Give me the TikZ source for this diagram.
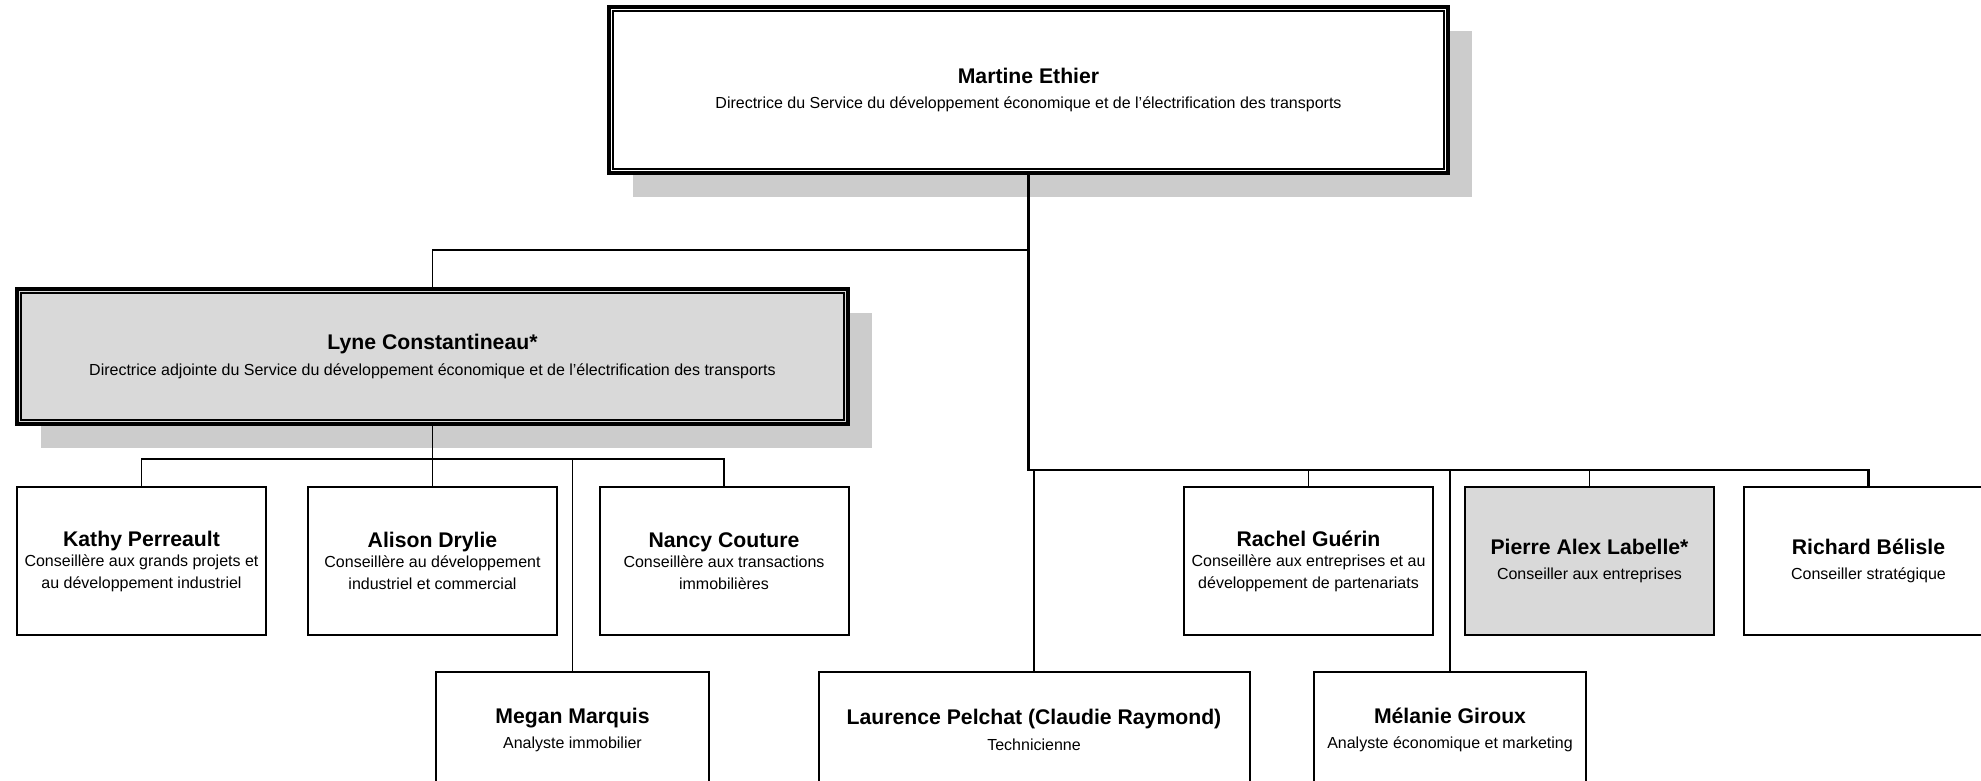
\documentclass[tikz,border=0pt]{standalone}
\usepackage{fontspec}
\setmainfont{Liberation Sans}
\usetikzlibrary{shadows}

\definecolor{boxgrey}{HTML}{D9D9D9}
\definecolor{shadowgrey}{HTML}{CCCCCC}

% name in bold, then the job title
\newcommand{\who}[3][1.8pt]{{\fontsize{10.6}{12}\selectfont\bfseries #2}\\[#1]#3}

\tikzset{
  person/.style = {draw, line width = 1pt, fill = white, align = center, inner sep = 0pt,
    minimum width = 124.5pt, minimum height = 74pt, font = \fontsize{8}{10.85}\selectfont},
  lower/.style = {person, minimum height = 58pt},
  chief/.style = {person, line width = 2pt,
    drop shadow = {shadow xshift = 12pt, shadow yshift = -12pt, opacity = 1, fill = shadowgrey}},
  inner frame/.style = {line width = 0.7pt},
  link/.style = {line width = 0.8pt},
  trunk/.style = {line width = 1.2pt}
}

\begin{document}
\begin{tikzpicture}[x = 0.5pt, y = -0.5pt]
\useasboundingbox (0, 0) rectangle (1981, 781);
\clip (0, 0) rectangle (1981, 781);

\node[chief, minimum width = 419.5pt, minimum height = 83pt] (martine) at (1028.5, 90)
  {\who{Martine Ethier}{Directrice du Service du développement économique et de l’électrification des transports}};
\node[chief, fill = boxgrey, minimum width = 415.5pt, minimum height = 67.5pt] (lyne) at (432.5, 356.5)
  {\who{Lyne Constantineau*}{Directrice adjointe du Service du développement économique et de l’électrification des transports}};
\draw[inner frame] ([shift = {(6, 6)}]martine.north west) rectangle ([shift = {(-6, -6)}]martine.south east);
\draw[inner frame] ([shift = {(6, 6)}]lyne.north west) rectangle ([shift = {(-6, -6)}]lyne.south east);

% first row
\node[person] (kathy) at (141.5, 561) {\who[-0.7pt]{Kathy Perreault}{Conseillère aux grands projets et\\au développement industriel}};
\node[person] (alison) at (432.5, 561) {\who[-0.7pt]{Alison Drylie}{Conseillère au développement\\industriel et commercial}};
\node[person] (nancy) at (724, 561) {\who[-0.7pt]{Nancy Couture}{Conseillère aux transactions\\immobilières}};
\node[person] (rachel) at (1308.5, 561) {\who[-0.7pt]{Rachel Guérin}{Conseillère aux entreprises et au\\développement de partenariats}};
\node[person, fill = boxgrey] (pierre) at (1589.5, 561) {\who{Pierre Alex Labelle*}{Conseiller aux entreprises}};
\node[person] (richard) at (1868.5, 561) {\who{Richard Bélisle}{Conseiller stratégique}};

% second row
\node[lower, minimum width = 136.5pt] (megan) at (572.5, 730) {\who{Megan Marquis}{Analyste immobilier}};
\node[lower, minimum width = 215.5pt] (laurence) at (1034, 730) {\who{Laurence Pelchat (Claudie Raymond)}{Technicienne}};
\node[lower, minimum width = 136pt] (melanie) at (1450, 730) {\who{Mélanie Giroux}{Analyste économique et marketing}};

% connectors
\coordinate (bus1) at (0, 250);
\coordinate (bus2) at (0, 470);
\coordinate (bus3) at (0, 459);

\draw[link] (martine.south) |- (lyne.north |- bus1) -- (lyne.north);
\draw[trunk] (martine.south) -- (martine.south |- bus2) -| (richard.north);
\foreach \n in {rachel, pierre, melanie, laurence}
  \draw[link] (\n.north) -- (\n.north |- bus2);
\draw[link] (lyne.south) -- (alison.north);
\draw[link] (kathy.north) |- (nancy.north |- bus3) -- (nancy.north);
\draw[link] (megan.north) -- (megan.north |- bus3);
\end{tikzpicture}
\end{document}
